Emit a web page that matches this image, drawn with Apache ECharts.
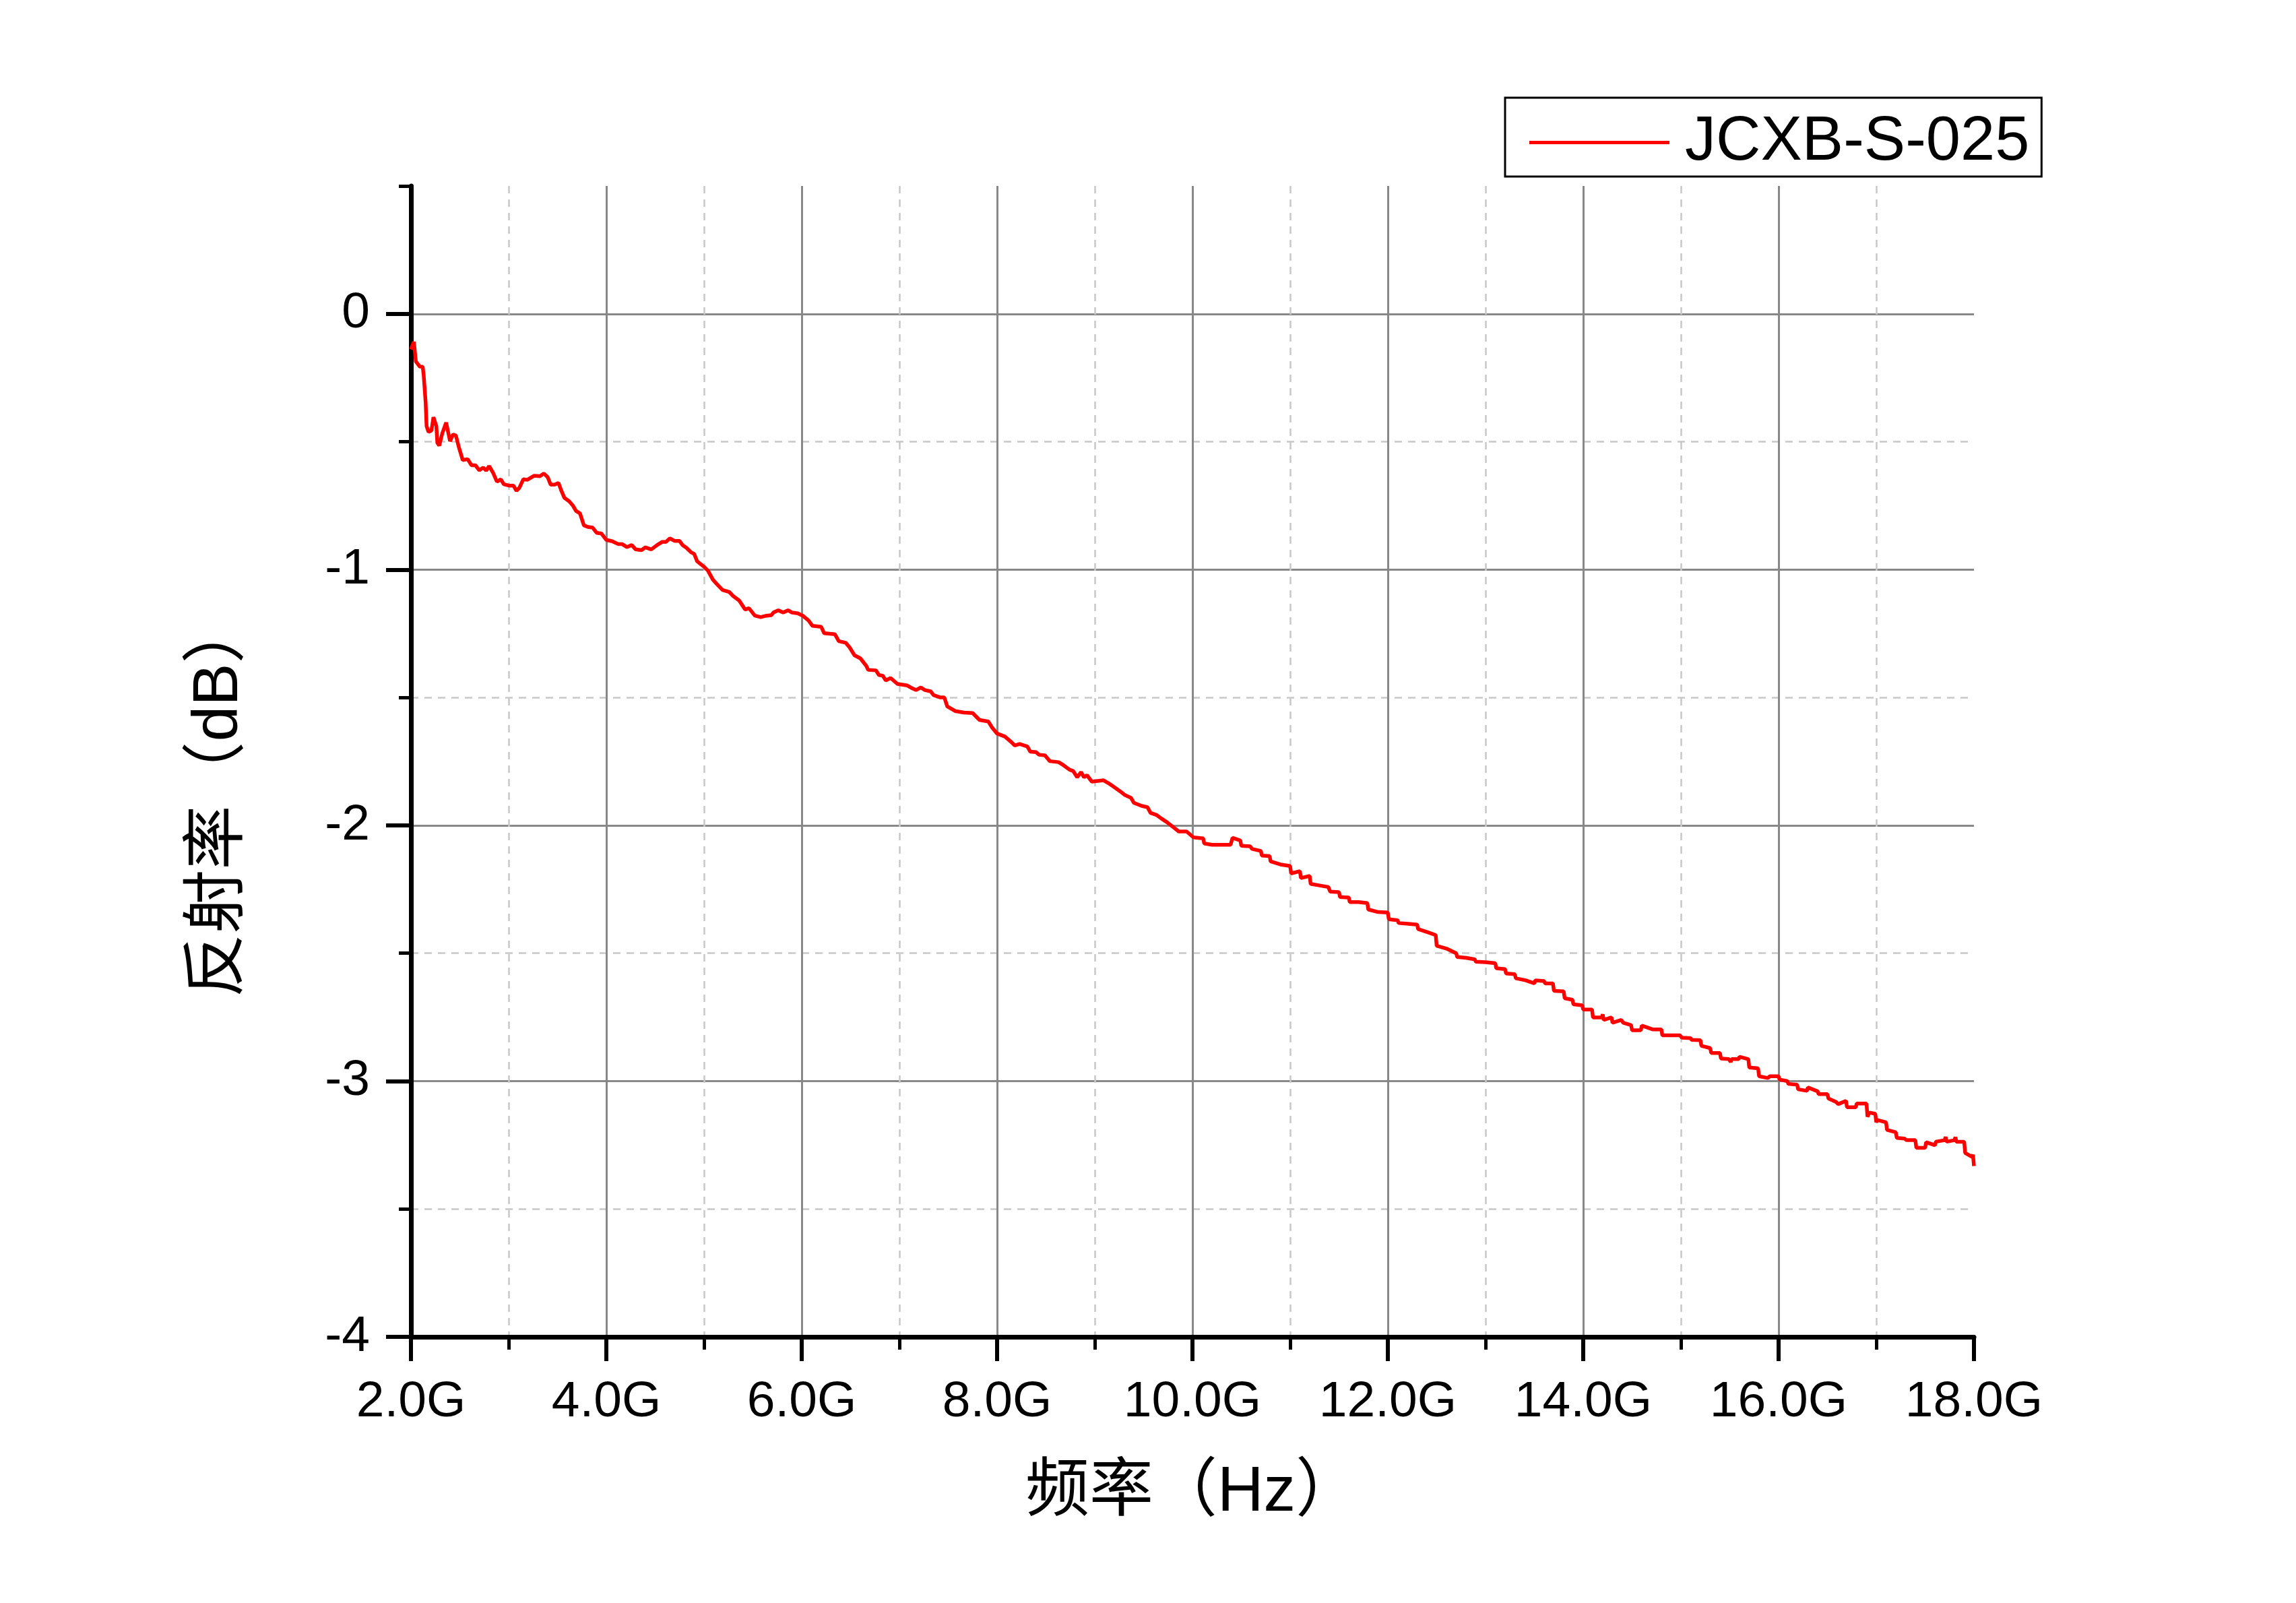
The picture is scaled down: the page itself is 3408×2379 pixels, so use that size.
<!DOCTYPE html>
<html>
<head>
<meta charset="utf-8">
<script src="https://cdn.jsdelivr.net/npm/echarts@6/dist/echarts.min.js"></script>
<style>
html,body{margin:0;padding:0;background:#fff;}
#chart{width:3408px;height:2379px;}
</style>
</head>
<body>
<div id="chart"></div>
<script>
// ---- data ----
const seriesName = 'JCXB-S-025';
const xAxisTitle = '频率（Hz）';
const yAxisTitle = '反射率（dB）';
const xTickValues = [2, 4, 6, 8, 10, 12, 14, 16, 18];
const xTickLabels = ['2.0G', '4.0G', '6.0G', '8.0G', '10.0G', '12.0G', '14.0G', '16.0G', '18.0G'];
const yTickValues = [0, -1, -2, -3, -4];
const yTickLabels = ['0', '-1', '-2', '-3', '-4'];

const freqGHz = [
2.00,2.03,2.05,2.09,2.12,2.13,2.15,2.16,2.18,2.21,2.23,2.26,2.27,2.29,2.32,2.36,2.40,2.43,2.46,2.49,
2.53,2.58,2.62,2.66,2.70,2.74,2.77,2.80,2.84,2.88,2.92,2.95,3.01,3.05,3.08,3.11,3.15,3.19,3.26,3.32,
3.36,3.40,3.43,3.47,3.51,3.54,3.57,3.62,3.66,3.69,3.73,3.77,3.81,3.86,3.90,3.95,4.00,4.06,4.12,4.16,
4.21,4.26,4.30,4.36,4.40,4.46,4.52,4.57,4.61,4.65,4.70,4.75,4.78,4.82,4.87,4.90,4.93,5.00,5.04,5.09,
5.13,5.19,5.26,5.30,5.36,5.42,5.46,5.52,5.58,5.64,5.69,5.71,5.76,5.81,5.86,5.90,5.96,6.01,6.07,6.11,
6.20,6.23,6.34,6.38,6.45,6.49,6.54,6.60,6.66,6.68,6.76,6.79,6.83,6.86,6.91,6.98,7.08,7.12,7.17,7.22,
7.26,7.32,7.35,7.42,7.46,7.49,7.57,7.66,7.75,7.82,7.91,7.95,8.00,8.08,8.15,8.18,8.23,8.31,8.34,8.40,
8.43,8.49,8.54,8.63,8.68,8.74,8.78,8.82,8.86,8.89,8.92,8.97,9.09,9.14,9.20,9.26,9.31,9.37,9.40,9.48,
9.54,9.57,9.63,9.68,9.74,9.80,9.86,9.94,10.01,10.11,10.12,10.20,10.39,10.41,10.49,10.50,10.59,10.61,10.70,10.71,
10.79,10.80,10.90,11.00,11.01,11.10,11.11,11.20,11.21,11.30,11.39,11.41,11.50,11.51,11.60,11.61,11.70,11.79,11.80,11.90,
12.00,12.01,12.10,12.11,12.21,12.30,12.31,12.41,12.49,12.50,12.60,12.70,12.71,12.80,12.89,12.90,13.00,13.10,13.11,13.20,
13.21,13.30,13.31,13.41,13.50,13.51,13.60,13.61,13.69,13.70,13.80,13.81,13.89,13.90,13.99,14.00,14.09,14.10,14.19,14.20,
14.21,14.29,14.30,14.39,14.41,14.49,14.50,14.59,14.60,14.69,14.71,14.80,14.81,14.90,14.99,15.01,15.10,15.11,15.20,15.21,
15.30,15.31,15.40,15.41,15.49,15.51,15.52,15.59,15.60,15.69,15.70,15.79,15.80,15.89,15.91,16.00,16.01,16.09,16.10,16.19,
16.20,16.29,16.30,16.40,16.41,16.50,16.51,16.59,16.61,16.69,16.70,16.79,16.80,16.90,16.91,16.93,16.99,17.00,17.01,17.10,
17.11,17.20,17.21,17.29,17.31,17.40,17.41,17.50,17.51,17.60,17.61,17.70,17.71,17.72,17.80,17.81,17.82,17.90,17.91,17.98,
17.99,18.00
];
const reflectDb = [
-0.139,-0.109,-0.186,-0.206,-0.207,-0.239,-0.345,-0.439,-0.462,-0.456,-0.404,-0.439,-0.504,-0.515,-0.468,-0.425,-0.498,-0.472,-0.476,-0.521,
-0.572,-0.568,-0.592,-0.592,-0.612,-0.601,-0.613,-0.595,-0.621,-0.656,-0.647,-0.666,-0.672,-0.672,-0.692,-0.680,-0.647,-0.649,-0.633,-0.635,
-0.624,-0.639,-0.668,-0.668,-0.661,-0.692,-0.719,-0.733,-0.751,-0.771,-0.780,-0.827,-0.833,-0.836,-0.856,-0.859,-0.884,-0.889,-0.900,-0.900,
-0.912,-0.904,-0.921,-0.924,-0.913,-0.921,-0.904,-0.892,-0.892,-0.878,-0.888,-0.888,-0.904,-0.915,-0.933,-0.939,-0.968,-0.989,-1.004,-1.039,
-1.056,-1.080,-1.088,-1.104,-1.121,-1.156,-1.151,-1.180,-1.186,-1.180,-1.178,-1.168,-1.159,-1.168,-1.159,-1.168,-1.171,-1.180,-1.199,-1.220,
-1.224,-1.249,-1.253,-1.280,-1.286,-1.304,-1.335,-1.347,-1.376,-1.392,-1.394,-1.412,-1.415,-1.433,-1.424,-1.447,-1.453,-1.462,-1.471,-1.461,
-1.471,-1.476,-1.491,-1.500,-1.500,-1.535,-1.553,-1.559,-1.561,-1.588,-1.594,-1.618,-1.641,-1.653,-1.676,-1.688,-1.682,-1.692,-1.712,-1.714,
-1.724,-1.726,-1.749,-1.753,-1.765,-1.782,-1.788,-1.812,-1.792,-1.812,-1.804,-1.829,-1.824,-1.835,-1.851,-1.867,-1.882,-1.892,-1.912,-1.924,
-1.929,-1.951,-1.959,-1.973,-1.988,-2.006,-2.024,-2.024,-2.047,-2.051,-2.071,-2.076,-2.076,-2.049,-2.059,-2.080,-2.082,-2.092,-2.100,-2.118,
-2.120,-2.141,-2.153,-2.159,-2.188,-2.179,-2.206,-2.198,-2.229,-2.235,-2.241,-2.259,-2.261,-2.280,-2.282,-2.300,-2.300,-2.304,-2.329,-2.339,
-2.341,-2.367,-2.371,-2.382,-2.385,-2.388,-2.406,-2.418,-2.429,-2.471,-2.482,-2.500,-2.515,-2.518,-2.524,-2.533,-2.535,-2.539,-2.559,-2.562,
-2.579,-2.582,-2.598,-2.606,-2.618,-2.606,-2.609,-2.618,-2.618,-2.647,-2.649,-2.676,-2.682,-2.700,-2.704,-2.720,-2.720,-2.751,-2.751,-2.739,
-2.761,-2.751,-2.772,-2.761,-2.772,-2.781,-2.801,-2.801,-2.783,-2.795,-2.798,-2.798,-2.821,-2.821,-2.821,-2.830,-2.832,-2.839,-2.840,-2.862,
-2.871,-2.890,-2.890,-2.912,-2.914,-2.925,-2.914,-2.914,-2.905,-2.914,-2.947,-2.950,-2.981,-2.988,-2.981,-2.981,-2.994,-3.000,-3.011,-3.014,
-3.032,-3.038,-3.025,-3.040,-3.051,-3.051,-3.068,-3.082,-3.090,-3.077,-3.102,-3.102,-3.088,-3.088,-3.139,-3.123,-3.128,-3.161,-3.152,-3.161,
-3.191,-3.200,-3.222,-3.225,-3.231,-3.231,-3.261,-3.261,-3.239,-3.251,-3.237,-3.231,-3.218,-3.237,-3.231,-3.219,-3.237,-3.237,-3.281,-3.296,
-3.288,-3.332
];

// ---- chart ----
const latin = "'Liberation Sans', Arial, 'Noto Sans CJK SC', sans-serif";
const cjk = "'Liberation Sans', 'Noto Sans CJK SC', sans-serif";
const chart = echarts.init(document.getElementById('chart'), null, {renderer: 'canvas'});
const seriesData = freqGHz.map((f, i) => [f, reflectDb[i]]);

const option = {
  backgroundColor: '#ffffff',
  animation: false,
  grid: {left: 610, right: 478, top: 276, bottom: 395, containLabel: false},
  legend: {
    data: [{name: seriesName, icon: 'rect'}],
    left: 2234, top: 145,
    padding: [16, 18, 0, 36],
    borderColor: '#000', borderWidth: 3,
    itemWidth: 208, itemHeight: 5,
    itemStyle: {color: '#ff0000'},
    textStyle: {fontFamily: latin, fontSize: 92, color: '#000', lineHeight: 101, padding: [0, 0, 0, 18]}
  },
  xAxis: [{
    type: 'value', min: 2, max: 18, interval: 2,
    name: xAxisTitle, nameLocation: 'middle', nameGap: 184,
    nameTextStyle: {fontFamily: cjk, fontSize: 95, color: '#000'},
    axisLine: {show: true, onZero: false, lineStyle: {color: '#000', width: 7}},
    axisTick: {show: true, inside: false, length: 36, lineStyle: {color: '#000', width: 6}},
    minorTick: {show: true, splitNumber: 2, length: 19, lineStyle: {color: '#000', width: 5}},
    axisLabel: {
      margin: 60, fontFamily: latin, fontSize: 75, color: '#000',
      formatter: v => xTickLabels[xTickValues.indexOf(Math.round(v))]
    },
    splitLine: {show: true, showMaxLine: false, lineStyle: {color: '#888888', width: 3}},
    minorSplitLine: {show: true, lineStyle: {color: '#c8c8c8', width: 2.5, type: [11, 9]}}
  }],
  yAxis: [{
    type: 'value', min: -4, max: 0.5, interval: 1, position: 'left',
    name: yAxisTitle, nameLocation: 'middle', nameGap: 237,
    nameTextStyle: {fontFamily: cjk, fontSize: 95, color: '#000', padding: [0, 110, 0, 0]},
    axisLine: {show: true, onZero: false, lineStyle: {color: '#000', width: 7}},
    axisTick: {show: true, inside: false, length: 37, customValues: yTickValues, lineStyle: {color: '#000', width: 6}},
    minorTick: {show: true, splitNumber: 2, length: 18, lineStyle: {color: '#000', width: 5}},
    axisLabel: {
      margin: 61, fontFamily: latin, fontSize: 75, color: '#000',
      customValues: yTickValues,
      formatter: v => yTickLabels[yTickValues.indexOf(Math.round(v))]
    },
    splitLine: {show: false}
  }, {
    type: 'value', min: -4, max: 0.5, interval: 1, position: 'left',
    axisLine: {show: false}, axisTick: {show: false}, axisLabel: {show: false},
    minorTick: {show: false, splitNumber: 2},
    splitLine: {show: true, showMaxLine: false, lineStyle: {color: '#888888', width: 3}},
    minorSplitLine: {show: true, lineStyle: {color: '#c8c8c8', width: 2.5, type: [11, 9]}}
  }, {
    type: 'value', min: -4, max: 0.5, interval: 1, position: 'left',
    axisLine: {show: false}, axisLabel: {show: false}, splitLine: {show: false},
    axisTick: {show: true, inside: false, length: 18, customValues: [0.5], lineStyle: {color: '#000', width: 5}}
  }],
  series: [{
    name: seriesName, type: 'line', xAxisIndex: 0, yAxisIndex: 0,
    data: seriesData, symbol: 'none', smooth: false,
    lineStyle: {color: '#ff0000', width: 5.5},
    itemStyle: {color: '#ff0000'},
    z: 3
  }]
};
chart.setOption(option);
</script>
</body>
</html>
